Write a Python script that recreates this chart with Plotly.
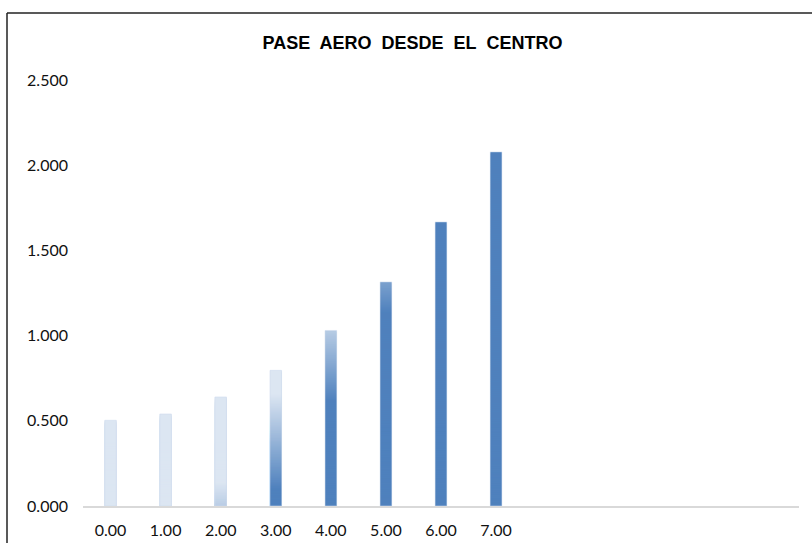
import numpy as np
import plotly.graph_objects as go

# Data
categories = [0, 1, 2, 3, 4, 5, 6, 7]
category_labels = ["0.00", "1.00", "2.00", "3.00", "4.00", "5.00", "6.00", "7.00"]
values = [0.503, 0.540, 0.640, 0.796, 1.030, 1.315, 1.667, 2.078]

TITLE = "PASE\u00a0 AERO\u00a0 DESDE\u00a0 EL\u00a0 CENTRO"

# Gradient fill style (diagonal light-to-dark sweep across the series)
DARK = np.array([79, 129, 189])
LIGHT = np.array([220, 230, 242])
GRAD_SLOPE = 0.52       # value units per category
GRAD_OFFSET = -1.18     # centre of the transition at category 0
GRAD_WIDTH = 0.56       # value units covered by the transition
STEP = 0.004


def shade(cat, level):
    centre = GRAD_OFFSET + GRAD_SLOPE * cat
    t = (level - (centre - GRAD_WIDTH / 2)) / GRAD_WIDTH
    t = min(max(t, 0.0), 1.0)
    r, g, b = DARK + t * (LIGHT - DARK)
    return f"rgb({r:.0f},{g:.0f},{b:.0f})"


# Layered bars: each bar is stacked from tall to short so the visible band
# of every layer carries the colour of the gradient at that height.
lx, ly, lc = [], [], []
for cat, val in zip(categories, values):
    levels = np.arange(val, 0, -STEP)
    for h in levels:
        lx.append(cat)
        ly.append(float(h))
        lc.append(shade(cat, float(h)))

fig = go.Figure()
fig.add_trace(go.Bar(
    x=lx, y=ly, width=0.21,
    marker=dict(color=lc, line=dict(width=0)),
    hoverinfo="skip", showlegend=False,
))
# Outline drawn from the series values
fig.add_trace(go.Bar(
    x=categories, y=values, width=0.21,
    marker=dict(color="rgba(0,0,0,0)", line=dict(width=1, color="rgba(205,218,236,0.55)")),
    showlegend=False,
))

PLOT_H = 426
fig.update_layout(
    width=812, height=543,
    margin=dict(l=83, r=13, t=80, b=37),
    paper_bgcolor="white", plot_bgcolor="white",
    barmode="overlay",
    title=dict(
        text=TITLE, x=0.508, xanchor="center", y=0.921, yanchor="middle",
        font=dict(family="Liberation Sans Narrow, Arial Narrow, Liberation Sans, Arial",
                  size=18, color="#000000", weight="bold"),
    ),
    xaxis=dict(
        range=[-0.5, 12.5], tickmode="array", tickvals=categories, ticktext=category_labels,
        showgrid=False, zeroline=False, showline=True, linecolor="#D9D9D9", linewidth=1.5,
        ticks="", ticklabelstandoff=9, automargin=False,
        tickfont=dict(family="Lato, Carlito, Calibri, sans-serif", size=16, color="#111111"),
    ),
    yaxis=dict(
        range=[0, 2.5], tickmode="array", tickvals=[0, 0.5, 1.0, 1.5, 2.0, 2.5],
        tickformat=".3f", showgrid=False, zeroline=False, showline=False,
        ticks="", ticklabelstandoff=14, automargin=False,
        tickfont=dict(family="Lato, Carlito, Calibri, sans-serif", size=16, color="#111111"),
    ),
    shapes=[
        dict(type="line", xref="paper", yref="paper", x0=(7 - 83) / 716, x1=1.2,
             y0=(506 - 13) / PLOT_H, y1=(506 - 13) / PLOT_H, line=dict(color="#222222", width=1.5)),
        dict(type="line", xref="paper", yref="paper", x0=(7 - 83) / 716, x1=(7 - 83) / 716,
             y0=(506 - 13) / PLOT_H, y1=-0.2, line=dict(color="#222222", width=1.5)),
    ],
)

fig.write_html("out.html")
